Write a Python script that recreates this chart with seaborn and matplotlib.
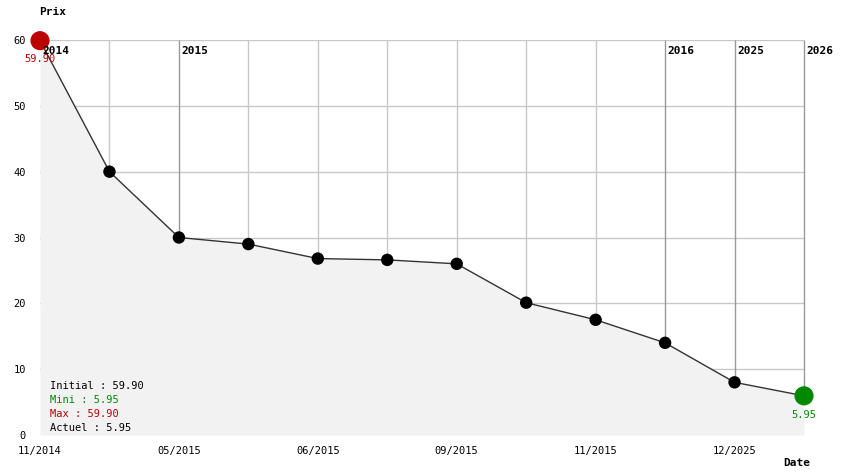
import matplotlib
matplotlib.use("Agg")
import matplotlib.pyplot as plt
import seaborn as sns
import pandas as pd

# ---- data ----
prices = [59.90, 40.0, 30.0, 29.0, 26.8, 26.6, 26.0, 20.1, 17.5, 14.0, 8.0, 5.95]
date_labels = ["11/2014", "", "05/2015", "", "06/2015", "", "09/2015", "", "11/2015", "", "12/2025", ""]
year_idx = [0, 2, 9, 10, 11]
year_labels = ["2014", "2015", "2016", "2025", "2026"]
y_ticks = [0, 10, 20, 30, 40, 50, 60]
initial, mini, maxi, actuel = 59.90, 5.95, 59.90, 5.95

sns.set_theme(style="white")
plt.rcParams["font.family"] = ["DejaVu Sans Mono"]
plt.rcParams["text.color"] = "black"
plt.rcParams["xtick.color"] = "black"
plt.rcParams["ytick.color"] = "black"
plt.rcParams["xtick.labelcolor"] = "black"
plt.rcParams["ytick.labelcolor"] = "black"

idx = list(range(len(prices)))
df = pd.DataFrame({"i": idx, "prix": prices})

fig = plt.figure(figsize=(8.44, 4.74), dpi=100)
ax = fig.add_axes([40 / 844, 39 / 474, 764 / 844, 395 / 474])
ax.set_xlim(0, len(prices) - 1)
ax.set_ylim(0, 60)
for s in ax.spines.values():
    s.set_visible(False)

# grid
for y in y_ticks[1:]:
    ax.axhline(y, color="#c8c8c8", lw=1, zorder=0.5)
for i in idx[1:]:
    c = "#999999" if i in year_idx else "#c8c8c8"
    ax.vlines(i, prices[i], 60, color=c, lw=1, zorder=0.6, clip_on=False)

ax.fill_between(idx, prices, 0, color="#f2f2f2", zorder=1, lw=0)
sns.lineplot(data=df, x="i", y="prix", ax=ax, color="#333333", lw=1, zorder=2)
sns.scatterplot(data=df.iloc[1:-1], x="i", y="prix", ax=ax, color="black", s=80,
                edgecolor="none", zorder=3, clip_on=False)
imax = prices.index(max(prices))
imin = prices.index(min(prices))
ax.scatter([imax], [prices[imax]], s=190, color="#bb0000", zorder=4, clip_on=False, edgecolor="none")
ax.scatter([imin], [prices[imin]], s=190, color="#008800", zorder=4, clip_on=False, edgecolor="none")
ax.text(imax, prices[imax] - 2.75, f"{prices[imax]:.2f}", color="#bb0000", fontsize=7.5,
        ha="center", va="center", zorder=7)
ax.text(imin, prices[imin] - 2.9, f"{prices[imin]:.2f}", color="#008800", fontsize=7.5,
        ha="center", va="center", zorder=7)

# year labels
for i, lab in zip(year_idx, year_labels):
    ax.text(i + 0.04, 58.4, lab, fontsize=8, fontweight="bold", ha="left", va="center", zorder=6)

ax.set_xticks(idx)
ax.set_xticklabels(date_labels, fontsize=7.5)
ax.set_yticks(y_ticks)
ax.set_yticklabels([str(v) for v in y_ticks], fontsize=7.5)
ax.tick_params(axis="both", length=0, pad=8)
ax.tick_params(axis="y", pad=10)
ax.set_xlabel("")
ax.set_ylabel("")

fig.text(53 / 844, 1 - 12 / 474, "Prix", fontsize=8, fontweight="bold", ha="center", va="center")
fig.text(797 / 844, 1 - 463 / 474, "Date", fontsize=8, fontweight="bold", ha="center", va="center")

legend_lines = [(f"Initial : {initial:.2f}", "black"), (f"Mini : {mini:.2f}", "#008800"),
                (f"Max : {maxi:.2f}", "#bb0000"), (f"Actuel : {actuel:.2f}", "black")]
for k, (t, c) in enumerate(legend_lines):
    fig.text(50 / 844, 1 - (386 + 14 * k) / 474, t, color=c, fontsize=7.5, ha="left", va="center")

fig.savefig("out.png", dpi=100)
